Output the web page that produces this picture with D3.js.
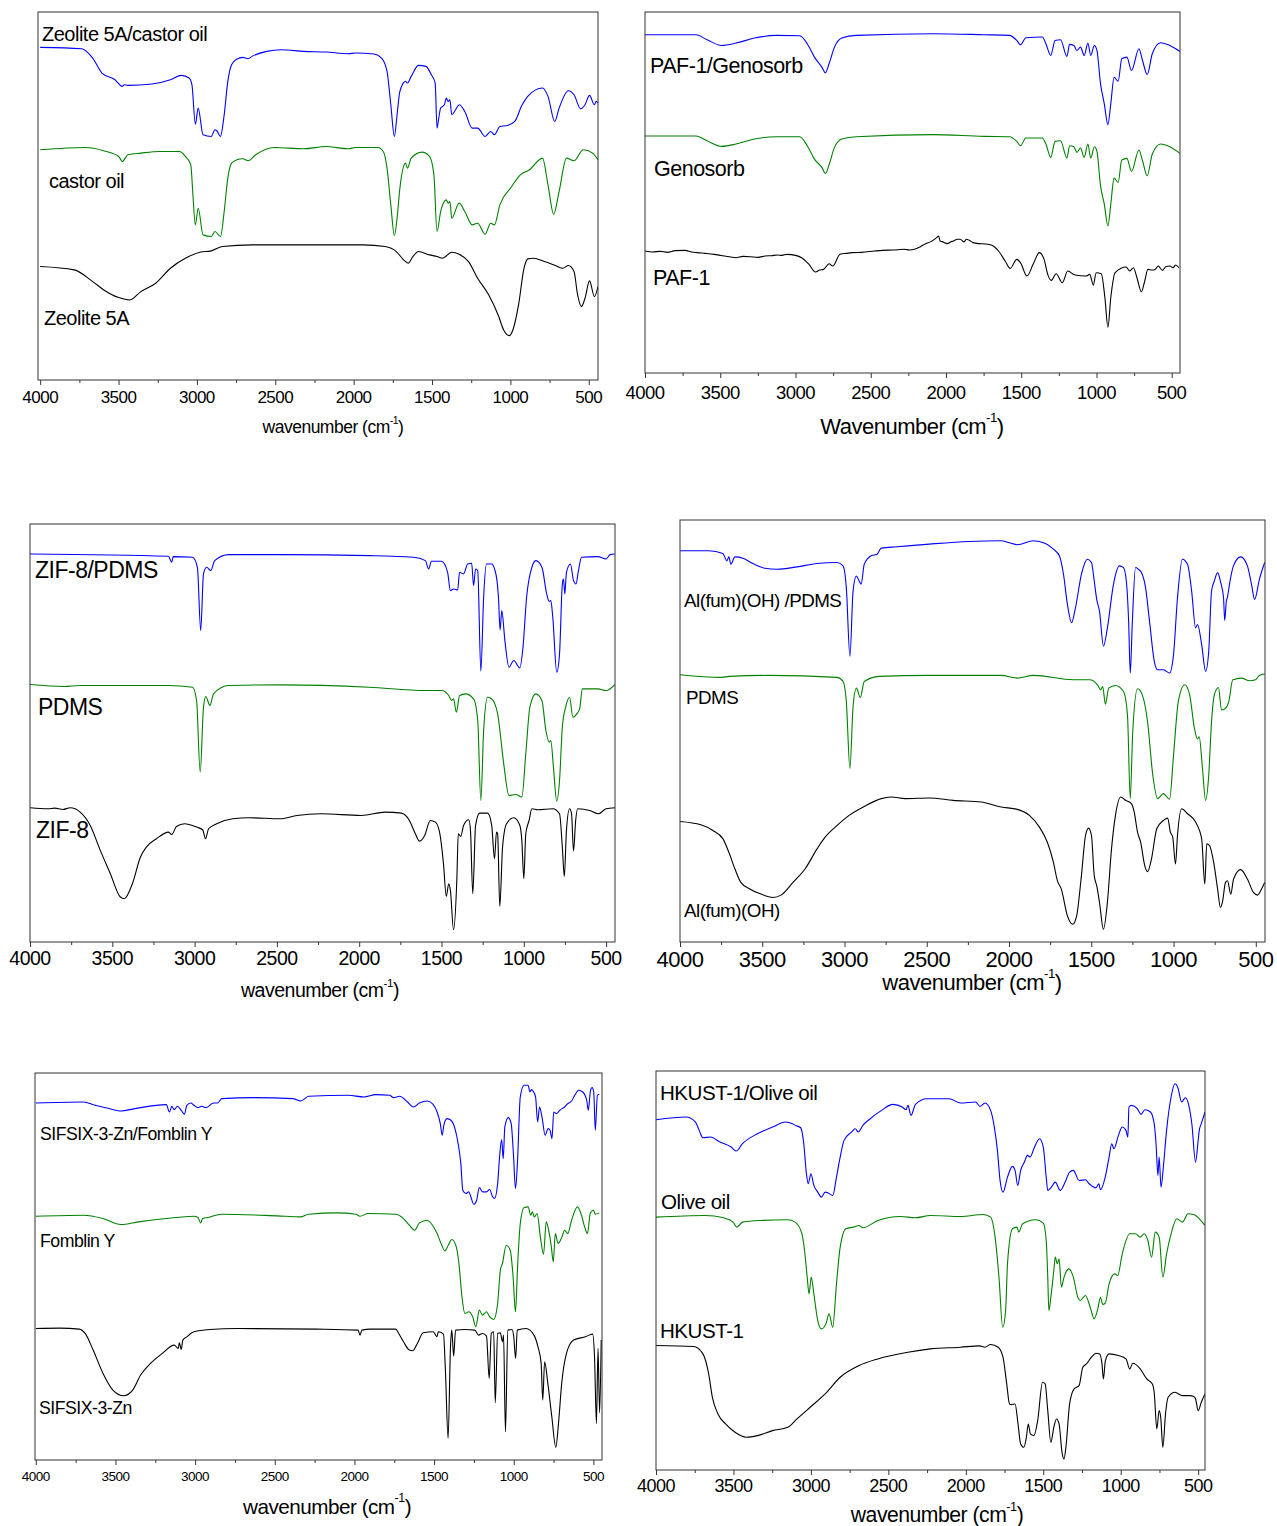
<!DOCTYPE html>
<html><head><meta charset="utf-8">
<script src="https://cdn.jsdelivr.net/npm/d3@7"></script>
<style>
html,body{margin:0;padding:0;background:#fff;}
svg{display:block;font-family:"Liberation Sans",Arial,sans-serif;}
</style></head>
<body>
<svg id="chart" width="1277" height="1526"></svg>
<script>
// ---------- DATA (wavenumber in cm-1, intensity in arbitrary units) ----------
const majorTicks = [4000,3500,3000,2500,2000,1500,1000,500];
const minorTicks = [3750,3250,2750,2250,1750,1250,750];

// Panel 1
const labels1 = ["Zeolite 5A/castor oil","castor oil","Zeolite 5A"];
const zeoliteCastor = [[4000,997],[3735,993],[3665,965],[3606,920],[3523,900],[3476,880],[3464,885],[3440,883],[3287,887],[3169,900],[3098,913],[3050,905],[3032,885],[3010,767],[2992,815],[2961,735],[2909,730],[2885,750],[2873,747],[2850,730],[2826,795],[2803,895],[2779,945],[2744,962],[2708,967],[2673,963],[2649,970],[2555,985],[2460,990],[2318,985],[2176,983],[2035,978],[1988,980],[1870,977],[1822,965],[1787,925],[1763,825],[1740,730],[1723,795],[1705,865],[1669,895],[1657,890],[1633,910],[1586,943],[1539,940],[1504,915],[1480,890],[1468,755],[1457,785],[1445,815],[1421,825],[1409,845],[1397,835],[1386,840],[1374,795],[1350,810],[1327,825],[1291,805],[1244,755],[1209,755],[1161,730],[1126,745],[1102,735],[1067,760],[1019,763],[972,775],[925,825],[889,850],[795,875],[760,850],[717,775],[689,815],[630,867],[594,855],[552,813],[524,825],[495,853],[464,825],[453,835],[441,830]];
const castorOil = [[4000,690],[3712,697],[3594,687],[3499,670],[3476,655],[3440,675],[3358,680],[3239,685],[3110,685],[3074,670],[3039,645],[3027,565],[3010,465],[2992,515],[2961,435],[2909,430],[2885,445],[2850,430],[2826,505],[2803,605],[2779,650],[2744,660],[2708,663],[2673,657],[2625,675],[2507,697],[2318,693],[2176,700],[2035,693],[1988,697],[1846,697],[1811,685],[1787,635],[1763,525],[1740,433],[1723,485],[1705,575],[1669,650],[1657,635],[1633,665],[1563,683],[1516,670],[1488,615],[1468,445],[1445,505],[1409,540],[1397,530],[1386,535],[1374,485],[1327,530],[1291,505],[1244,465],[1209,470],[1161,437],[1126,470],[1102,465],[1067,525],[996,577],[937,615],[878,630],[795,665],[760,585],[724,497],[689,565],[642,665],[594,657],[535,690],[476,680],[441,660]];
const zeolite5A = [[4000,340],[3783,330],[3665,295],[3594,270],[3499,247],[3428,240],[3358,265],[3263,290],[3169,335],[3074,365],[2980,383],[2909,387],[2838,400],[2649,405],[1940,405],[1799,400],[1728,385],[1681,360],[1652,350],[1622,370],[1586,385],[1516,375],[1468,370],[1433,365],[1374,383],[1327,377],[1267,355],[1209,305],[1138,255],[1078,195],[1043,150],[1007,133],[984,150],[948,225],[913,335],[889,363],[854,365],[783,355],[712,343],[665,335],[630,343],[594,325],[571,255],[547,220],[524,245],[495,297],[464,250],[441,280]];

// Panel 2
const labels2 = ["PAF-1/Genosorb","Genosorb","PAF-1"];
const paf1Genosorb = [[4000,1012],[3661,1012],[3588,997],[3491,980],[3395,987],[3273,1002],[3128,1010],[2971,1009],[2922,985],[2874,945],[2825,915],[2801,898],[2777,925],[2741,975],[2692,1002],[2595,1010],[2087,1015],[1748,1012],[1578,1010],[1530,995],[1505,982],[1469,1003],[1360,1005],[1336,985],[1304,950],[1275,995],[1239,997],[1196,947],[1179,983],[1150,980],[1130,965],[1106,975],[1082,950],[1057,987],[1038,950],[1014,980],[997,965],[973,865],[948,805],[924,743],[905,805],[883,885],[856,873],[832,940],[798,945],[767,905],[718,970],[694,935],[663,893],[629,955],[574,988],[513,980],[445,962]];
const genosorb = [[4000,709],[3661,709],[3588,695],[3491,678],[3395,685],[3273,700],[3128,707],[2971,707],[2922,680],[2874,640],[2825,615],[2801,597],[2777,623],[2741,675],[2692,700],[2595,707],[2087,713],[1748,708],[1578,707],[1530,693],[1505,680],[1469,703],[1360,703],[1336,685],[1304,645],[1275,693],[1239,695],[1196,643],[1179,680],[1150,677],[1130,660],[1106,673],[1082,645],[1057,685],[1038,643],[1014,677],[997,663],[973,560],[948,505],[924,440],[905,505],[883,583],[856,570],[832,637],[798,642],[767,603],[718,667],[694,635],[663,590],[629,655],[574,685],[513,677],[445,657]];
const paf1 = [[4000,365],[3950,362],[3900,364],[3850,361],[3800,366],[3734,367],[3690,362],[3650,360],[3600,358],[3540,355],[3500,352],[3470,350],[3430,347],[3395,345],[3350,349],[3300,348],[3250,346],[3201,350],[3160,351],[3120,353],[3090,352],[3055,355],[3000,352],[2959,345],[2910,325],[2867,302],[2840,308],[2813,310],[2777,327],[2753,320],[2704,355],[2660,358],[2620,360],[2560,361],[2474,365],[2420,367],[2350,368],[2280,370],[2240,368],[2210,370],[2170,378],[2135,387],[2100,393],[2062,405],[2048,410],[2040,395],[2026,393],[1990,387],[1970,392],[1950,395],[1925,400],[1905,400],[1880,392],[1865,400],[1845,397],[1820,390],[1784,387],[1740,386],[1699,383],[1651,365],[1607,335],[1573,313],[1530,340],[1505,330],[1462,290],[1421,325],[1380,360],[1348,340],[1324,295],[1300,277],[1268,297],[1227,270],[1191,305],[1142,293],[1069,290],[1045,295],[1021,263],[1002,300],[968,297],[944,225],[924,137],[905,225],[876,300],[803,317],[779,305],[755,315],[731,285],[702,243],[682,270],[658,310],[630,308],[610,310],[590,320],[561,307],[540,318],[513,320],[490,315],[476,323],[452,315]];

// Panel 3
const labels3 = ["ZIF-8/PDMS","PDMS","ZIF-8"];
const zif8Pdms = [[4000,1165],[3159,1158],[3139,1140],[3130,1157],[3012,1155],[2983,1125],[2963,935],[2946,1105],[2927,1125],[2902,1115],[2878,1145],[2793,1163],[2476,1163],[1939,1160],[1671,1155],[1598,1145],[1578,1120],[1561,1143],[1500,1143],[1463,1110],[1446,1055],[1426,1060],[1402,1057],[1390,1110],[1366,1105],[1341,1135],[1317,1137],[1305,1070],[1293,1120],[1280,1115],[1261,813],[1244,1035],[1227,1135],[1195,1135],[1178,1120],[1163,1085],[1154,1035],[1144,937],[1134,995],[1115,905],[1090,825],[1061,845],[1024,823],[1005,885],[983,1035],[951,1125],[927,1145],[890,1125],[861,1045],[846,1023],[836,1025],[824,975],[800,810],[783,865],[766,1075],[759,1090],[751,1045],[741,1110],[717,1135],[698,1085],[683,1075],[668,1115],[649,1155],[551,1157],[500,1150],[476,1163],[447,1165]];
const pdms3 = [[4000,773],[3793,767],[3695,770],[3159,770],[3012,765],[2988,725],[2966,510],[2946,705],[2932,737],[2907,710],[2885,745],[2793,770],[2476,772],[1939,765],[1598,755],[1500,755],[1456,740],[1439,725],[1427,730],[1410,690],[1390,740],[1354,745],[1305,730],[1280,665],[1261,425],[1244,635],[1220,735],[1195,730],[1159,685],[1122,535],[1090,440],[1049,443],[1012,435],[988,565],[963,705],[927,745],[890,725],[866,635],[846,600],[836,605],[820,525],[800,423],[783,485],[766,645],[746,705],[722,735],[702,675],[678,685],[661,700],[644,760],[551,760],[500,755],[447,773]];
const zif8 = [[4000,403],[3890,400],[3850,402],[3800,398],[3756,403],[3695,390],[3634,350],[3573,275],[3512,205],[3451,135],[3427,130],[3378,175],[3329,255],[3293,285],[3232,310],[3159,330],[3139,323],[3110,347],[3061,355],[2988,345],[2951,337],[2934,310],[2915,340],[2866,355],[2768,370],[2671,373],[2476,370],[2378,380],[2232,385],[1988,380],[1841,390],[1744,387],[1695,365],[1659,325],[1634,303],[1602,320],[1568,365],[1537,360],[1512,330],[1488,235],[1471,137],[1456,175],[1446,155],[1427,37],[1407,185],[1398,325],[1383,317],[1366,350],[1334,367],[1324,335],[1310,145],[1293,350],[1268,387],[1220,387],[1195,350],[1178,250],[1166,330],[1159,325],[1146,107],[1129,285],[1105,355],[1061,373],[1024,350],[1012,305],[1000,190],[988,325],[968,365],[951,400],[915,397],[824,400],[783,385],[766,285],[754,197],[741,335],[722,400],[710,385],[698,273],[685,365],[673,400],[600,395],[546,385],[500,400],[447,403]];

// Panel 4
const labels4 = ["Al(fum)(OH) /PDMS","PDMS","Al(fum)(OH)"];
const alfumPdms = [[4000,1168],[3825,1168],[3739,1160],[3715,1138],[3703,1150],[3691,1128],[3666,1150],[3618,1146],[3557,1130],[3484,1116],[3411,1113],[3289,1120],[3167,1130],[3045,1133],[3009,1123],[2989,1058],[2967,853],[2948,1048],[2928,1093],[2911,1078],[2899,1068],[2880,1128],[2838,1153],[2802,1158],[2777,1176],[2680,1180],[2485,1188],[2242,1196],[2047,1198],[1998,1192],[1949,1186],[1852,1198],[1779,1190],[1730,1173],[1694,1153],[1669,1098],[1645,1008],[1620,953],[1596,998],[1560,1098],[1523,1143],[1499,1133],[1482,1078],[1467,1023],[1450,988],[1426,883],[1402,938],[1365,1068],[1329,1123],[1304,1118],[1287,1078],[1273,958],[1263,803],[1251,948],[1231,1118],[1214,1113],[1195,1103],[1170,1058],[1146,958],[1117,838],[1097,813],[1061,813],[1024,803],[1000,858],[976,1028],[946,1143],[915,1128],[890,1048],[866,938],[854,948],[829,888],[805,808],[786,868],[769,1048],[752,1078],[732,1103],[713,1073],[696,1028],[689,960],[679,1018],[672,1030],[660,1068],[636,1123],[592,1150],[551,1123],[526,1068],[507,1023],[478,1083],[446,1133]];
const pdms4 = [[4000,798],[3752,790],[3703,793],[3459,796],[3045,790],[3009,778],[2989,718],[2967,518],[2948,703],[2928,758],[2904,730],[2880,778],[2790,793],[2485,796],[2047,796],[1949,788],[1852,796],[1608,783],[1511,783],[1462,768],[1443,753],[1431,763],[1414,710],[1394,758],[1353,766],[1304,748],[1280,678],[1263,428],[1248,628],[1219,756],[1190,738],[1158,658],[1126,498],[1097,428],[1061,443],[1024,426],[1000,558],[971,718],[932,768],[902,738],[873,638],[854,606],[844,613],[824,518],[805,423],[786,498],[769,658],[752,738],[727,760],[708,693],[684,698],[664,718],[640,783],[587,788],[538,780],[502,783],[478,796],[446,800]];
const alfum = [[4000,360],[3873,350],[3800,333],[3739,308],[3703,268],[3666,218],[3630,178],[3581,160],[3508,143],[3435,133],[3386,140],[3313,178],[3240,218],[3167,278],[3118,313],[3045,348],[2972,378],[2875,406],[2777,428],[2717,433],[2631,428],[2485,430],[2339,423],[2169,418],[2047,403],[1949,396],[1876,378],[1815,343],[1767,298],[1730,238],[1706,183],[1682,158],[1645,78],[1613,53],[1589,78],[1560,198],[1535,318],[1516,340],[1499,318],[1482,198],[1467,168],[1450,118],[1426,38],[1402,118],[1377,278],[1353,378],[1321,433],[1292,423],[1256,413],[1239,388],[1219,328],[1200,298],[1175,228],[1158,210],[1134,248],[1102,338],[1061,363],[1036,370],[1019,328],[1005,313],[988,233],[976,318],[951,398],[915,383],[866,358],[829,308],[810,173],[798,293],[781,288],[756,238],[732,158],[715,103],[703,118],[684,178],[672,183],[652,143],[635,188],[592,216],[551,188],[514,148],[490,140],[465,158],[446,178]];

// Panel 5
const labels5 = ["SIFSIX-3-Zn/Fomblin Y","Fomblin Y","SIFSIX-3-Zn"];
const sifsixFomblin = [[4000,1072],[3702,1075],[3628,1065],[3553,1057],[3466,1048],[3379,1055],[3181,1067],[3161,1045],[3146,1062],[3131,1052],[3111,1062],[3087,1050],[3067,1038],[3052,1065],[3027,1072],[3007,1065],[2982,1058],[2958,1062],[2933,1058],[2883,1072],[2858,1072],[2833,1085],[2635,1088],[2387,1085],[2337,1078],[2287,1092],[2039,1095],[1940,1090],[1866,1097],[1779,1095],[1754,1088],[1716,1092],[1667,1075],[1630,1060],[1592,1072],[1543,1078],[1506,1068],[1481,1045],[1461,1010],[1449,975],[1439,1005],[1419,1025],[1394,1020],[1369,995],[1349,950],[1332,890],[1320,810],[1300,800],[1283,805],[1250,768],[1233,780],[1216,818],[1196,805],[1171,805],[1151,812],[1134,792],[1121,785],[1101,830],[1089,910],[1076,962],[1066,905],[1056,1000],[1034,1028],[1016,1010],[1001,910],[989,815],[977,890],[959,1090],[935,1125],[910,1125],[898,1105],[888,1112],[878,1107],[863,1090],[850,1015],[838,1060],[821,1025],[803,975],[784,995],[772,990],[760,965],[749,1045],[731,1040],[711,1050],[681,1060],[661,1070],[637,1078],[617,1095],[592,1110],[567,1105],[542,1080],[532,1050],[518,1110],[508,1118],[498,1105],[488,990],[475,1095],[463,1098]];
const fomblinY = [[4000,732],[3702,735],[3578,725],[3466,707],[3355,715],[3181,725],[3007,732],[2982,728],[2965,712],[2953,725],[2920,728],[2833,738],[2486,733],[2337,730],[2287,738],[2113,742],[1990,738],[1965,732],[1915,740],[1741,738],[1692,725],[1655,705],[1622,690],[1592,712],[1543,720],[1506,702],[1481,680],[1456,650],[1432,628],[1411,645],[1389,662],[1364,645],[1344,590],[1325,490],[1307,440],[1282,445],[1258,430],[1238,400],[1216,450],[1196,435],[1171,445],[1151,430],[1126,422],[1101,470],[1084,570],[1071,590],[1047,645],[1022,630],[1004,550],[989,445],[977,570],[959,710],[935,758],[910,760],[893,735],[883,745],[871,730],[853,740],[833,670],[813,618],[796,715],[779,685],[764,640],[752,595],[739,680],[722,650],[697,670],[681,690],[661,680],[637,720],[600,760],[575,735],[555,700],[537,680],[520,740],[500,750],[488,738],[463,742]];
const sifsix = [[4000,395],[3850,396],[3727,393],[3690,380],[3640,330],[3578,260],[3516,210],[3449,193],[3392,210],[3342,255],[3280,290],[3206,320],[3131,345],[3106,335],[3099,352],[3087,332],[3077,360],[3057,368],[3007,385],[2908,392],[2734,395],[2238,393],[1977,390],[1965,375],[1953,390],[1900,393],[1741,393],[1722,380],[1692,355],[1655,330],[1635,328],[1605,350],[1568,382],[1506,385],[1481,370],[1474,385],[1441,378],[1429,270],[1412,65],[1397,340],[1389,390],[1377,312],[1365,390],[1307,392],[1245,390],[1221,375],[1196,380],[1171,372],[1154,245],[1141,380],[1126,385],[1116,172],[1101,380],[1084,382],[1071,355],[1064,375],[1052,85],[1037,390],[1010,392],[1000,370],[988,305],[978,390],[923,395],[873,375],[848,340],[828,290],[818,180],[806,295],[786,230],[761,130],[736,38],[719,110],[699,230],[669,320],[624,360],[550,370],[505,378],[493,310],[481,110],[471,335],[461,142],[451,360]];

// Panel 6
const labels6 = ["HKUST-1/Olive oil","Olive oil","HKUST-1"];
const hkustOlive = [[4000,1050],[3806,1058],[3745,1043],[3721,1018],[3697,996],[3648,998],[3587,983],[3515,968],[3483,956],[3442,978],[3345,1008],[3248,1028],[3163,1043],[3119,1038],[3100,1033],[3066,1026],[3046,978],[3029,888],[3017,858],[3000,888],[2981,853],[2956,833],[2932,818],[2908,833],[2888,830],[2859,823],[2835,878],[2811,938],[2786,988],[2738,1013],[2714,1023],[2694,1013],[2665,1033],[2617,1053],[2544,1078],[2471,1096],[2410,1088],[2386,1080],[2374,1093],[2354,1063],[2325,1096],[2252,1113],[2107,1113],[2034,1100],[1937,1103],[1908,1090],[1876,1100],[1840,1078],[1816,1028],[1796,958],[1779,868],[1760,833],[1731,878],[1699,910],[1682,898],[1665,853],[1646,898],[1622,923],[1602,943],[1585,938],[1561,963],[1524,993],[1500,968],[1481,878],[1471,838],[1451,846],[1422,863],[1391,838],[1359,863],[1330,893],[1306,898],[1269,868],[1228,870],[1204,858],[1160,846],[1141,858],[1131,840],[1100,878],[1075,938],[1058,978],[1044,963],[1015,1003],[990,1028],[966,1018],[954,998],[947,1088],[930,1093],[893,1083],[869,1066],[844,1080],[808,1073],[784,1038],[772,978],[760,883],[752,938],[740,848],[723,918],[704,1018],[675,1118],[650,1158],[631,1146],[607,1103],[583,1116],[558,1088],[541,1038],[517,923],[500,988],[493,1018],[480,1038],[456,1073]];
const oliveOil = [[4000,758],[3684,763],[3563,756],[3502,743],[3478,728],[3442,743],[3320,748],[3150,750],[3102,743],[3058,708],[3041,658],[3024,578],[3012,528],[2998,578],[2981,528],[2956,448],[2932,423],[2903,438],[2883,468],[2859,428],[2835,558],[2811,668],[2774,723],[2726,728],[2689,733],[2665,726],[2568,748],[2422,760],[2325,756],[2228,763],[2034,760],[1888,766],[1840,758],[1811,698],[1786,578],[1762,428],[1743,478],[1731,618],[1699,723],[1670,728],[1658,713],[1633,738],[1549,750],[1500,740],[1481,688],[1471,578],[1464,478],[1451,518],[1432,598],[1422,638],[1410,618],[1398,633],[1383,548],[1366,578],[1335,603],[1306,578],[1277,518],[1262,508],[1228,523],[1197,488],[1172,453],[1148,483],[1131,518],[1116,496],[1100,500],[1075,558],[1039,588],[1020,583],[990,648],[942,708],[905,708],[874,698],[849,708],[825,688],[801,638],[777,713],[752,698],[728,578],[704,648],[675,708],[638,753],[602,743],[566,768],[529,766],[493,753],[456,733]];
const hkust1 = [[4000,373],[3757,370],[3697,348],[3660,288],[3636,218],[3600,168],[3551,138],[3490,113],[3417,98],[3345,103],[3248,118],[3150,128],[3090,153],[3005,188],[2908,228],[2811,278],[2689,313],[2568,333],[2374,353],[2228,363],[2034,368],[1913,372],[1876,368],[1840,376],[1791,368],[1760,338],[1736,258],[1718,198],[1706,196],[1682,198],[1663,138],[1646,78],[1626,68],[1609,98],[1597,138],[1583,108],[1561,103],[1536,148],[1505,263],[1488,258],[1471,178],[1451,83],[1432,128],[1415,153],[1398,138],[1379,53],[1366,33],[1354,68],[1330,198],[1301,243],[1269,253],[1245,308],[1221,318],[1189,338],[1160,350],[1136,348],[1121,318],[1112,273],[1099,328],[1075,348],[1015,343],[966,333],[942,303],[922,320],[874,303],[832,273],[796,258],[784,233],[767,123],[752,178],[742,158],[728,68],[711,168],[694,218],[650,233],[602,223],[553,223],[529,220],[517,213],[500,178],[480,203],[456,228]];

// ---------- LAYOUT ----------
const BLUE = "#0000ff", GREEN = "#008000", BLACK = "#000000";
const panels = [
  {l:38,r:598,t:12,b:380,xd:[4014,441],ymax:1103, tickFs:17, tickY:397, title:"wavenumber", titleFs:17.5, titleX:333, titleY:427,
   series:[[zeoliteCastor,BLUE],[castorOil,GREEN],[zeolite5A,BLACK]], labels:labels1, labFs:20, labPos:[[42,34],[49,181],[44,318]]},
  {l:645,r:1180,t:12,b:373,xd:[4000,445],ymax:1080, tickFs:18.5, tickY:392, title:"Wavenumber", titleFs:22, titleX:912, titleY:426,
   series:[[paf1Genosorb,BLUE],[genosorb,GREEN],[paf1,BLACK]], labels:labels2, labFs:21.5, labPos:[[650,66],[654,169],[653,278]]},
  {l:30,r:615,t:524,b:942,xd:[4000,446],ymax:1255, tickFs:19.5, tickY:958, title:"wavenumber", titleFs:19.5, titleX:320, titleY:990,
   series:[[zif8Pdms,BLUE],[pdms3,GREEN],[zif8,BLACK]], labels:labels3, labFs:23, labPos:[[35,570],[38,707],[36,830]]},
  {l:680,r:1265,t:520,b:942,xd:[4000,444],ymax:1260, tickFs:22, tickY:959, title:"wavenumber", titleFs:22, titleX:972, titleY:982,
   series:[[alfumPdms,BLUE],[pdms4,GREEN],[alfum,BLACK]], labels:labels4, labFs:18.8, labPos:[[684,600],[686,697],[684,910]]},
  {l:35,r:602,t:1073,b:1460,xd:[4005,446],ymax:1162, tickFs:13.5, tickY:1476, title:"wavenumber", titleFs:20.7, titleX:327, titleY:1506,
   series:[[sifsixFomblin,BLUE],[fomblinY,GREEN],[sifsix,BLACK]], labels:labels5, labFs:17.7, labPos:[[40,1134],[40,1241],[39,1408]]},
  {l:656,r:1205,t:1071,b:1470,xd:[4000,456],ymax:1196, tickFs:18, tickY:1486, title:"wavenumber", titleFs:21.2, titleX:937, titleY:1514,
   series:[[hkustOlive,BLUE],[oliveOil,GREEN],[hkust1,BLACK]], labels:labels6, labFs:20.6, labPos:[[660,1092],[661,1201],[660,1330]]}
];

const svg = d3.select("#chart");

panels.forEach(p => {
  const x = d3.scaleLinear().domain(p.xd).range([p.l, p.r]);
  const y = d3.scaleLinear().domain([0, p.ymax]).range([p.b, p.t]);
  const g = svg.append("g");

  const clipId = "clip" + p.l + "_" + p.t;
  g.append("clipPath").attr("id", clipId).append("rect")
    .attr("x", p.l).attr("y", p.t).attr("width", p.r - p.l).attr("height", p.b - p.t);

  const line = d3.line().x(d => x(d[0])).y(d => y(d[1])).curve(d3.curveMonotoneX);
  const plot = g.append("g").attr("clip-path", `url(#${clipId})`);
  p.series.forEach(([data, color]) => {
    plot.append("path").datum(data).attr("d", line)
      .attr("fill", "none").attr("stroke", color).attr("stroke-width", 1.1).attr("stroke-linejoin", "round");
  });

  // frame
  g.append("rect").attr("x", p.l).attr("y", p.t).attr("width", p.r - p.l).attr("height", p.b - p.t)
    .attr("fill", "none").attr("stroke", "#333").attr("stroke-width", 1);

  // ticks
  const ax = g.append("g").attr("transform", `translate(0,${p.b})`)
    .call(d3.axisBottom(x).tickValues(majorTicks).tickSize(5).tickFormat(""));
  ax.select(".domain").remove();
  ax.selectAll("line").attr("stroke", "#333");
  const axm = g.append("g").attr("transform", `translate(0,${p.b})`)
    .call(d3.axisBottom(x).tickValues(minorTicks).tickSize(3).tickFormat(""));
  axm.select(".domain").remove();
  axm.selectAll("line").attr("stroke", "#333");

  // tick labels
  g.selectAll(null).data(majorTicks).enter().append("text")
    .attr("x", d => x(d)).attr("y", p.tickY)
    .attr("text-anchor", "middle").attr("dominant-baseline", "central")
    .attr("font-size", p.tickFs).attr("fill", "#000").attr("letter-spacing", "-0.5")
    .text(d => d);

  // axis title
  const t = g.append("text").attr("x", p.titleX).attr("y", p.titleY)
    .attr("text-anchor", "middle").attr("dominant-baseline", "central")
    .attr("font-size", p.titleFs).attr("fill", "#000").attr("letter-spacing", "-0.5");
  t.append("tspan").text(p.title + " (cm");
  t.append("tspan").attr("font-size", p.titleFs * 0.6).attr("dy", -p.titleFs * 0.4).text("-1");
  t.append("tspan").attr("dy", p.titleFs * 0.4).text(")");

  // series labels
  p.labels.forEach((lab, i) => {
    g.append("text").attr("x", p.labPos[i][0]).attr("y", p.labPos[i][1])
      .attr("dominant-baseline", "central").attr("font-size", p.labFs)
      .attr("fill", "#000").attr("letter-spacing", "-0.5").text(lab);
  });
});
</script>
</body></html>
